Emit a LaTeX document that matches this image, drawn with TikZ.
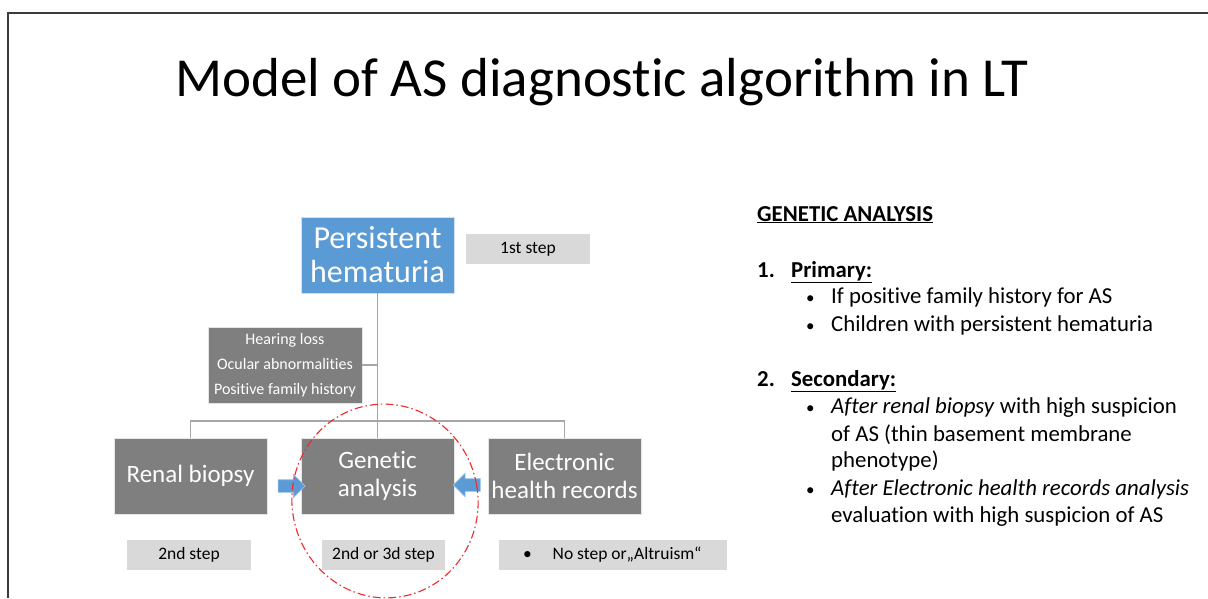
\documentclass[tikz,border=0pt]{standalone}
\usepackage{fontspec}
\setmainfont{Carlito}[Ligatures=NoCommon]
\usetikzlibrary{shapes.arrows}
\definecolor{boxblue}{HTML}{5B9BD5}
\definecolor{boxgray}{HTML}{7F7F7F}
\definecolor{stepgray}{HTML}{D9D9D9}
\definecolor{linegray}{HTML}{A6A6A6}
\definecolor{ringred}{HTML}{EE2A2A}
\definecolor{framegray}{HTML}{3C3C3C}
\newcommand{\fs}[2]{\fontsize{#1}{#2}\selectfont}
\newcommand{\smallbullet}{{\fs{17}{20}\textbullet}}
\begin{document}
\begin{tikzpicture}[x=1pt,y=-1pt,
  box/.style={fill=boxgray, draw=white!80!boxgray, line width=0.6pt, text=white,
    minimum width=153pt, minimum height=76pt, align=center, inner sep=0pt,
    font=\fs{25}{28}},
  stepbox/.style={fill=stepgray, minimum height=30pt, inner sep=0pt, font=\fs{17.5}{20}},
  link/.style={draw=linegray, line width=1.4pt},
  blockarrow/.style={single arrow, fill=boxblue, draw=boxblue!60!white, line width=0.6pt,
    inner xsep=0pt, inner ysep=6pt, minimum height=27pt,
    single arrow head extend=5.5pt},
  txt/.style={anchor=base west, inner sep=0pt, font=\fs{22.8}{27}},
  txtb/.style={txt, font=\fs{22.8}{27}\bfseries},
]
\useasboundingbox (0,0) rectangle (1208,598);

% slide frame
\draw[framegray, line width=2pt] (1208,13) -- (8,13) -- (8,598);

% title
\node[anchor=base, inner sep=0pt, font=\fs{55}{60}] (title) at (602,96)
  {Model of AS diagnostic algorithm in LT};

% tree nodes
\node[box, fill=boxblue, draw=white!70!boxblue, font=\fs{32}{34}] (hem) at (377.5,255)
  {Persistent\\hematuria};
\node[stepbox, minimum width=124pt] (s1) at (528,249) {1st step};
\node[box, minimum width=154pt, font=\fs{16}{25}] (crit) at (285,365)
  {Hearing loss\\Ocular abnormalities\\Positive family history};
\node[box] (renal) at (190.5,476) {Renal biopsy};
\node[box] (gen) at (377.5,476) {Genetic\\analysis};
\node[box] (ehr) at (564.5,476) {Electronic\\health records};

\node[stepbox, minimum width=124pt] (s2) at (189,555) {2nd step};
\node[stepbox, minimum width=123pt] (s3) at (383.5,555) {2nd or 3d step};
\node[stepbox, minimum width=228pt] (s4) at (613,555)
  {\makebox[228pt][l]{\hspace{24pt}\textbullet\hspace{21pt}No step or„Altruism“}};

% connectors
\coordinate (bus) at (377.5,421);
\coordinate (join) at (377.5,365);
\draw[link] (hem.south) -- (gen.north);
\draw[link] (crit.east) -- (join);
\draw[link] (renal.north) |- (bus) -| (ehr.north);

% block arrows towards genetic analysis
\node[blockarrow] (ar1) at (288.5,486) {};
\node[blockarrow, shape border rotate=180] (ar2) at (470,485) {};

% highlight ring
\begin{scope}
\clip (0,0) rectangle (1208,598);
\draw[ringred, line width=1.1pt, dash pattern=on 8pt off 3pt on 1.5pt off 3pt]
  (385,501) ellipse [x radius=93, y radius=97, rotate=10];
\end{scope}

% explanation text
\node[txtb] (h) at (757,221) {\underline{GENETIC ANALYSIS}};
\node[txtb] (n1) at (757,277) {1.};
\node[txtb] (p) at (791,277) {\underline{Primary:}};
\node[txt] (b1) at (806,303) {\smallbullet};
\node[txt] (l1) at (831,303) {If positive family history for AS};
\node[txt] (b2) at (806,331) {\smallbullet};
\node[txt] (l2) at (831,331) {Children with persistent hematuria};
\node[txtb] (n2) at (757,386) {2.};
\node[txtb] (s) at (791,386) {\underline{Secondary:}};
\node[txt] (b3) at (806,413) {\smallbullet};
\node[txt] (l3) at (831,413) {\textit{After renal biopsy} with high suspicion};
\node[txt] (l4) at (831,441) {of AS (thin basement membrane};
\node[txt] (l5) at (831,467) {phenotype)};
\node[txt] (b4) at (806,495) {\smallbullet};
\node[txt] (l6) at (831,495) {\textit{After Electronic health records analysis}};
\node[txt] (l7) at (831,522) {evaluation with high suspicion of AS};
\end{tikzpicture}
\end{document}
